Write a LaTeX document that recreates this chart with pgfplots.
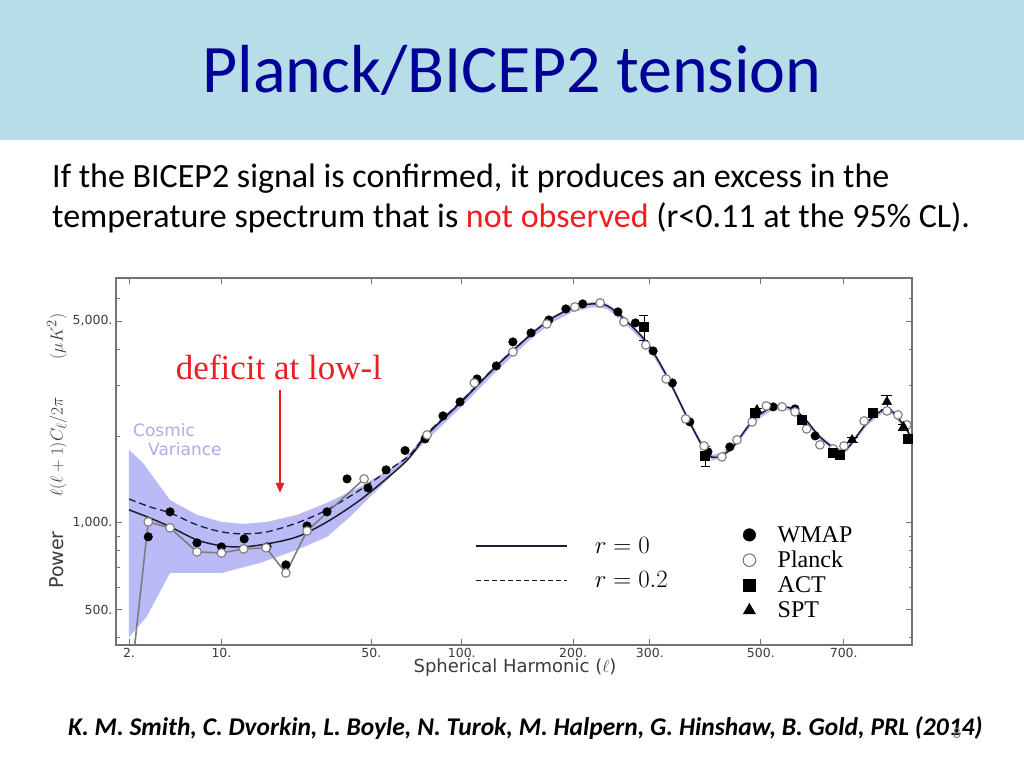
\documentclass[border=0pt]{standalone}
\usepackage{fontspec}
\setmainfont{Carlito}
\newfontfamily\dejavu{DejaVu Sans}
\newfontfamily\libserif{Liberation Serif}
\usepackage{pgfplots}
\pgfplotsset{compat=1.18}
\usetikzlibrary{arrows.meta}

\definecolor{titleband}{RGB}{183,222,232}
\definecolor{titleblue}{RGB}{0,0,150}
\definecolor{notobs}{RGB}{240,30,30}
\definecolor{bandblue}{RGB}{186,186,246}
\definecolor{axgray}{RGB}{115,115,115}
\definecolor{labgray}{RGB}{60,60,60}
\definecolor{curve}{RGB}{28,28,50}
\definecolor{plgray}{RGB}{125,125,125}
\definecolor{deficit}{RGB}{232,32,36}
\definecolor{cosmic}{RGB}{172,172,236}

\begin{document}
\begin{tikzpicture}
\begin{scope}[x=1pt,y=1pt]
\useasboundingbox (0,0) rectangle (1024,768);
\fill[white] (0,0) rectangle (1024,768);
\fill[titleband] (0,628) rectangle (1024,768);
\node[text=titleblue, font=\fontsize{68}{76}\selectfont, anchor=base, inner sep=0] at (512,675) {Planck/BICEP2 tension};
\node[anchor=base west, font=\fontsize{34}{40}\selectfont, inner sep=0] at (52,580) {If the BICEP2 signal is confirmed, it produces an excess in the};
\node[anchor=base west, font=\fontsize{34}{40}\selectfont, inner sep=0] at (52,540) {temperature spectrum that is \textcolor{notobs}{not observed} (r<0.11 at the 95\% CL).};
\node[anchor=base west, font=\fontsize{25.5}{30}\selectfont\bfseries\itshape, inner sep=0] at (68,33) {K. M. Smith, C. Dvorkin, L. Boyle, N. Turok, M. Halpern, G. Hinshaw, B. Gold, PRL (2014)};
\node[text=gray, font=\fontsize{15}{18}\selectfont, anchor=base, inner sep=0] at (957,30) {8};
\end{scope}

% the l axis of the figure is spaced as l^0.3
\begin{axis}[
  at={(116pt,123pt)}, anchor=south west,
  width=796pt, height=367pt, scale only axis,
  ymode=log, ymin=378, ymax=7040,
  x filter/.expression={exp(0.3*ln(x))},
  xmin=1.1237, xmax=7.702,
  xtick={1.2311,1.9953,3.2336,3.9811,4.9014,5.5354,6.4525,7.1378},
  xticklabels={2.,10.,50.,100.,200.,300.,500.,700.},
  ytick={500,1000,5000},
  yticklabels={500.,{1,000.},{5,000.}},
  minor ytick={400,600,700,800,900,2000,3000,4000,6000,7000},
  axis line style={axgray, line width=1.5pt},
  tick style={axgray, line width=0.8pt},
  major tick length=6pt, minor tick length=3.5pt,
  tick label style={font=\dejavu\fontsize{12.5}{14}\selectfont, text=labgray},
  legend style={at={(0.4475,0.3052)}, anchor=north west, draw=none, fill=none,
    font=\fontsize{24}{28}\selectfont, row sep=13pt, column sep=25pt},
  legend cell align=left,
  legend image code/.code={\draw[#1] (0pt,0pt) -- (91pt,0pt);},
]
% cosmic variance band: upper edge, then lower edge back
\addplot[fill=bandblue, draw=none, forget plot] coordinates {
(2,1790)(2.7,1610)(4.5,1200)(7,1066)(10,1008)(13.3,992)(17.8,1008)(24.8,1066)
(33.5,1173)(45.4,1332)(60,1562)(68.5,1747)(78,2060)(99,2650)(127,3580)(158,4610)
(178,5200)(200,5640)(223,5830)(241,5740)(262,5220)(296,4290)(327,3270)(359,2380)
(387,1870)(403,1720)(419,1740)(443,1860)(484,2300)(527,2550)(565,2530)(596,2360)
(638,2010)(682,1815)(709,1830)(765,2245)(812,2490)(842,2450)(886,2125)(901,1965)
(901,1900)(886,2055)(842,2370)(812,2410)(765,2170)(709,1765)(682,1750)(638,1940)
(596,2280)(565,2450)(527,2470)(484,2220)(443,1790)(419,1670)(403,1645)(387,1790)
(359,2280)(327,3130)(296,4100)(262,4980)(241,5500)(223,5580)(200,5380)(178,4950)
(158,4380)(127,3380)(99,2500)(78,1940)(65,1600)(52.5,1300)(41.5,1050)(33.5,895)
(24.8,807)(16.4,727)(10,671)(4.5,671)(2.9,473)(2,403)};
% model r = 0
\addplot[curve, line width=1.5pt, smooth, tension=0.5] coordinates {
(2,1110)(3.1,1040)(4.5,970)(7,873)(10,833)(13.3,826)(17.8,846)(24.8,895)
(33.5,1008)(45.4,1200)(60,1490)(68.5,1690)(78,2020)(99,2600)(127,3520)(158,4540)
(178,5120)(200,5550)(223,5730)(241,5640)(262,5120)(296,4200)(327,3200)(359,2330)
(387,1830)(403,1690)(419,1705)(443,1830)(484,2270)(527,2520)(565,2500)(596,2330)
(638,1985)(682,1790)(709,1805)(765,2220)(812,2460)(842,2420)(886,2100)(901,1940)};
\addlegendentry{$r=0$}
% model r = 0.2
\addplot[curve, line width=1.3pt, dash pattern=on 7pt off 4pt, smooth, tension=0.5,
  legend image post style={dash pattern=on 5pt off 3pt}] coordinates {
(2,1210)(3.1,1136)(4.5,1083)(7,984)(10,931)(13.3,916)(17.8,931)(24.8,1000)
(33.5,1109)(45.4,1301)(60,1562)(68.5,1719)(78,2040)(99,2615)(127,3530)(158,4545)};
\addlegendentry{$r=0.2$}
% Planck low-l line
\addplot[plgray, line width=1.6pt, forget plot] coordinates {
(2,250)(3,1008)(4.5,961)(7,794)(10,787)(13.4,813)(17.6,820)(22,671)(27.5,938)(47,1420)};
\end{axis}

% data points and their legend
\begin{axis}[
  at={(116pt,123pt)}, anchor=south west,
  width=796pt, height=367pt, scale only axis,
  hide axis,
  ymode=log, ymin=378, ymax=7040,
  x filter/.expression={exp(0.3*ln(x))},
  xmin=1.1237, xmax=7.702,
  legend style={at={(0.7838,0.335)}, anchor=north west, draw=none, fill=none,
    font=\libserif\fontsize{24}{27}\selectfont, row sep=3.5pt, column sep=20pt},
  legend cell align=left,
]
% WMAP
\addplot[only marks, mark=*, mark size=4.3pt, mark options={fill=black, draw=black},
  legend image post style={mark size=6.3pt}] coordinates {
(3,895)(4.5,1092)(7,853)(10,826)(13.5,880)(17.8,826)(22,716)(27.5,976)(33.5,1092)
(40.4,1420)(48.6,1321)(56.6,1526)(65.9,1780)(76.8,1953)(87.6,2346)(98.8,2623)
(111,3149)(126,3494)(140,4230)(156.5,4544)(174,5040)(192,5502)(211,5726)(232,5771)
(255,5372)(279,4920)(305,3937)(335,3050)(364,2236)(396,1761)(437,1832)(527,2520)
(577,2480)(626,2000)};
\addlegendentry{WMAP}
% Planck
\addplot[only marks, mark=*, mark size=4.3pt, mark options={fill=white, draw=plgray, line width=1.1pt},
  legend image post style={mark size=6.3pt}] coordinates {
(3,1008)(4.5,961)(7,794)(10,787)(13.4,813)(17.6,820)(22,671)(27.5,938)(47,1420)
(78,2016)(109,3050)(140,3905)(172,4882)(202,5590)(232,5771)(263,4961)(294,4129)
(325,3149)(357,2290)(389,1847)(422,1692)(451,1938)(482,2236)(512,2541)(547,2521)
(577,2422)(605,2115)(638,1862)(672,1803)(701,1847)(757,2254)(782,2402)(824,2441)
(858,2365)(886,2183)};
\addlegendentry{Planck}
% ACT
\addplot[only marks, mark=square*, mark size=4.5pt, mark options={fill=black, draw=black},
  legend image post style={mark size=6pt},
  error bars/.cd, y dir=both, y explicit] coordinates {
(291,4767) +- (0,480)
(391,1706) +- (0,140)
(488,2402) +- (0,60)
(593,2272) +- (0,50)
(672,1747) +- (0,50)
(690,1719) +- (0,50)
(782,2402) +- (0,60)
(889,1953) +- (0,60)};
\addlegendentry{ACT}
% SPT
\addplot[only marks, mark=triangle*, mark size=5.5pt, mark options={fill=black, draw=black},
  legend image post style={mark size=7pt},
  error bars/.cd, y dir=both, y explicit] coordinates {
(492,2460) +- (0,40)
(723,1938) +- (0,40)
(824,2623) +- (0,150)
(875,2150) +- (0,50)};
\addlegendentry{SPT}
\end{axis}

\begin{scope}[x=1pt,y=1pt]
\node[text=deficit, font=\libserif\fontsize{35}{40}\selectfont, anchor=base, inner sep=0] at (279,388) {deficit at low-l};
\draw[deficit, line width=2pt, -{Triangle[length=10pt,width=8pt]}] (280,378) -- (280,275);
\node[text=cosmic, font=\dejavu\fontsize{17}{20}\selectfont, anchor=base west, inner sep=0] at (133,331) {Cosmic};
\node[text=cosmic, font=\dejavu\fontsize{17}{20}\selectfont, anchor=base west, inner sep=0] at (148,312) {Variance};
\node[font=\dejavu\fontsize{18}{22}\selectfont, text=labgray] at (515,100) {Spherical Harmonic ($\ell$)};
\node[rotate=90, font=\dejavu\fontsize{19}{22}\selectfont, text=labgray] at (57,208) {Power};
\node[rotate=90, font=\fontsize{19}{22}\selectfont, text=labgray] at (57,363) {$\ell(\ell+1)C_\ell/2\pi\qquad(\mu K^2)$};
\end{scope}
\end{tikzpicture}
\end{document}
